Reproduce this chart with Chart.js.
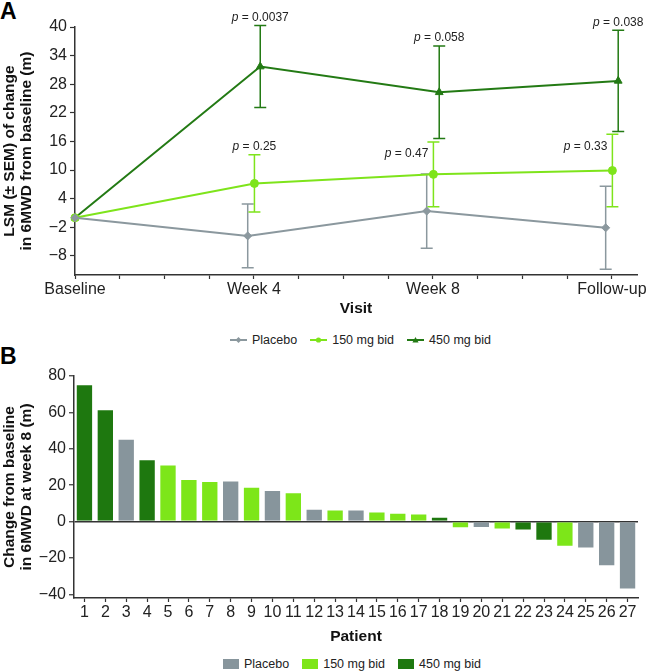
<!DOCTYPE html>
<html>
<head>
<meta charset="utf-8">
<script src="https://cdn.jsdelivr.net/npm/chart.js@4.4.0/dist/chart.umd.min.js"></script>
<style>
  body { margin: 0; background: #fff; font-family: "Liberation Sans", Arial, sans-serif; }
  #wrap { position: relative; width: 647px; height: 672px; overflow: hidden; }
  .letter { position: absolute; left: 0; font-weight: bold; font-size: 23px; line-height: 1; color: #000; }
  .legend { position: absolute; display: flex; align-items: center; font-size: 12.5px; color: #222; white-space: nowrap; height: 16px; }
  .legend .item { display: flex; align-items: center; margin-right: 13px; }
  .legend .sw { margin-right: 5px; display: block; }
  canvas { position: absolute; left: 0; }
</style>
</head>
<body>
<div id="wrap">
  <div class="letter" style="top:0px">A</div>
  <canvas id="chartA" width="647" height="320" style="top:0"></canvas>
  <div class="legend" id="legendA" style="top:332px; left:230px"></div>
  <div class="letter" style="top:345px">B</div>
  <canvas id="chartB" width="647" height="300" style="top:350px"></canvas>
  <div class="legend" id="legendB" style="top:656px; left:223px"></div>
</div>
<script>
// Panel A: LSM change in 6MWD by visit
const visitLabels = ['Baseline', 'Week 4', 'Week 8', 'Follow-up'];
const visitPos = [0, 4, 8, 12];
const placeboMean = [0, -3.8, 1.4, -2.1];
const placeboSem = [0, 6.7, 7.8, 8.7];
const mid150Mean = [0, 7.2, 9.1, 9.9];
const mid150Sem = [0, 6.0, 6.8, 7.6];
const high450Mean = [0, 31.7, 26.3, 28.7];
const high450Sem = [0, 8.6, 9.7, 10.6];
const pValues150 = [null, '0.25', '0.47', '0.33'];
const pValues450 = [null, '0.0037', '0.058', '0.038'];
const yTicksA = [40, 34, 28, 22, 16, 10, 4, -2, -8];

// Panel B: change at week 8 per patient
const patients = ['1','2','3','4','5','6','7','8','9','10','11','12','13','14','15','16','17','18','19','20','21','22','23','24','25','26','27'];
const changeWeek8 = [75.4, 61.7, 45.5, 34.3, 31.4, 23.4, 22.3, 22.6, 19.2, 17.4, 16.1, 7.1, 6.6, 6.6, 5.5, 4.9, 4.4, 2.7,
                     -3.7, -3.6, -4.4, -4.9, -10.6, -13.9, -14.8, -24.5, -37.3];
const patientGroup = ['450','450','placebo','450','150','150','150','placebo','150','placebo','150','placebo','150','placebo',
                      '150','150','150','450','150','placebo','150','450','450','150','placebo','placebo','placebo'];
const yTicksB = [80, 60, 40, 20, 0, -20, -40];

const FONT = '"Liberation Sans", Arial, sans-serif';
const AXIS = '#333';
const TEXT = '#222';
const colPlacebo = '#8b989e';
const col150 = '#7ee41b';
const col450 = '#237a14';
const TICK_SIZE = 16;
const TITLE_FONT = { size: 15.5, weight: 'bold', lineHeight: 1.1 };

Chart.defaults.font.family = FONT;

function fmt(v) {
    return v < 0 ? '\u2212' + Math.abs(v) : String(v);
}

// error bars drawn from the mean/sem arrays through the chart scales
const errorBars = {
    id: 'errorBars',
    beforeDatasetsDraw(chart) {
        const {ctx, scales: {x, y}} = chart;
        ctx.save();
        chart.data.datasets.forEach(ds => {
            ds.data.forEach((pt, i) => {
                const s = ds.sem[i];
                if (!s) return;
                const px = x.getPixelForValue(pt.x);
                const top = y.getPixelForValue(pt.y + s);
                const bot = y.getPixelForValue(pt.y - s);
                ctx.strokeStyle = ds.borderColor;
                ctx.lineWidth = 1.5;
                ctx.beginPath();
                ctx.moveTo(px, top); ctx.lineTo(px, bot);
                ctx.moveTo(px - 6, top); ctx.lineTo(px + 6, top);
                ctx.moveTo(px - 6, bot); ctx.lineTo(px + 6, bot);
                ctx.stroke();
            });
        });
        ctx.restore();
    }
};

const pLabels = {
    id: 'pLabels',
    afterDraw(chart) {
        const {ctx, scales: {x, y}} = chart;
        ctx.save();
        ctx.fillStyle = TEXT;
        ctx.textBaseline = 'middle';
        chart.data.datasets.forEach(ds => {
            if (!ds.pvals) return;
            ds.data.forEach((pt, i) => {
                const val = ds.pvals[i];
                if (!val) return;
                const px = x.getPixelForValue(pt.x);
                const top = y.getPixelForValue(pt.y + ds.sem[i]);
                ctx.font = 'italic 12px ' + FONT;
                const w1 = ctx.measureText('p').width;
                ctx.font = '12px ' + FONT;
                const rest = ' = ' + val;
                const w2 = ctx.measureText(rest).width;
                let sx, sy;
                if (ds.pPlace[i] === 'left') {
                    sx = px - 5 - (w1 + w2);
                    sy = top + 12;
                } else {
                    sx = px - (w1 + w2) / 2;
                    sy = top - 8;
                }
                ctx.textAlign = 'left';
                ctx.font = 'italic 12px ' + FONT;
                ctx.fillText('p', sx, sy);
                ctx.font = '12px ' + FONT;
                ctx.fillText(rest, sx + w1, sy);
            });
        });
        ctx.restore();
    }
};

function lineSeries(label, means, sems, dodge, color, style, radius, pvals, pPlace) {
    return {
        label: label,
        data: means.map((m, i) => ({x: visitPos[i] + (i === 0 ? 0 : dodge), y: m})),
        sem: sems,
        pvals: pvals,
        pPlace: pPlace,
        borderColor: color,
        backgroundColor: color,
        borderWidth: 2,
        pointStyle: style,
        pointRadius: radius,
        pointBorderWidth: 1,
        tension: 0,
        clip: false
    };
}

new Chart(document.getElementById('chartA'), {
    type: 'line',
    data: {
        datasets: [
            lineSeries('Placebo', placeboMean, placeboSem, -0.14, colPlacebo, 'rectRot', 4, null, null),
            lineSeries('150 mg bid', mid150Mean, mid150Sem, 0.01, col150, 'circle', 4, pValues150, [null, 'above', 'left', 'left']),
            lineSeries('450 mg bid', high450Mean, high450Sem, 0.14, col450, 'triangle', 4.5, pValues450, [null, 'above', 'above', 'above'])
        ]
    },
    options: {
        responsive: false,
        animation: false,
        layout: { padding: { top: 27, right: 10, left: 0, bottom: 0 } },
        plugins: { legend: { display: false }, tooltip: { enabled: false } },
        scales: {
            x: {
                type: 'linear',
                min: 0,
                max: 12.56,
                afterBuildTicks: s => { s.ticks = []; for (let v = 0; v <= 12; v++) s.ticks.push({value: v}); },
                afterFit: s => { s.height = 45; s.paddingLeft = 0; s.paddingRight = 0; },
                ticks: {
                    autoSkip: false, maxRotation: 0, padding: 1, color: TEXT, font: { size: TICK_SIZE },
                    callback: v => { const i = visitPos.indexOf(v); return i >= 0 ? visitLabels[i] : ''; }
                },
                grid: { drawOnChartArea: false, tickLength: 4, tickColor: AXIS, tickWidth: 1.2 },
                border: { color: AXIS, width: 1.5 },
                title: { display: true, text: 'Visit', color: '#111', font: TITLE_FONT, padding: { top: 0, bottom: 3 } }
            },
            y: {
                min: -12,
                max: 40,
                afterBuildTicks: s => {
                    s.ticks = [];
                    yTicksA.forEach(v => { s.ticks.push({value: v}); s.ticks.push({value: v - 3}); });
                },
                afterFit: s => { s.width = 75; s.paddingTop = 0; s.paddingBottom = 0; },
                ticks: {
                    padding: 3, color: TEXT, font: { size: TICK_SIZE },
                    callback: v => yTicksA.includes(v) ? fmt(v) : ''
                },
                grid: { drawOnChartArea: false, tickLength: 5, tickColor: AXIS, tickWidth: 1.2 },
                border: { color: AXIS, width: 1.5 },
                title: {
                    display: true, color: '#111',
                    text: ['LSM (\u00b1 SEM) of change', 'in 6MWD from baseline (m)'],
                    font: TITLE_FONT,
                    padding: { top: 1, bottom: 0 }
                }
            }
        }
    },
    plugins: [errorBars, pLabels]
});

const groups = [
    { key: 'placebo', label: 'Placebo', color: '#87959c' },
    { key: '150', label: '150 mg bid', color: '#7de619' },
    { key: '450', label: '450 mg bid', color: '#1e780f' }
];

new Chart(document.getElementById('chartB'), {
    type: 'bar',
    data: {
        labels: patients,
        datasets: groups.map(g => ({
            label: g.label,
            data: changeWeek8.map((v, i) => patientGroup[i] === g.key ? v : null),
            backgroundColor: g.color,
            borderColor: 'rgba(255,255,255,0.35)',
            borderWidth: 1,
            barPercentage: 0.83,
            categoryPercentage: 1
        }))
    },
    options: {
        responsive: false,
        animation: false,
        layout: { padding: { top: 26, right: 9, left: 0, bottom: 0 } },
        plugins: { legend: { display: false }, tooltip: { enabled: false } },
        scales: {
            x: {
                stacked: true,
                afterFit: s => { s.height = 52; s.paddingLeft = 0; s.paddingRight = 0; },
                ticks: { autoSkip: false, maxRotation: 0, padding: 1, color: TEXT, font: { size: TICK_SIZE } },
                grid: { offset: false, drawOnChartArea: false, tickLength: 4, tickColor: AXIS, tickWidth: 1.2 },
                border: { color: AXIS, width: 1.5 },
                title: { display: true, text: 'Patient', color: '#111', font: TITLE_FONT, padding: { top: 0, bottom: 5 } }
            },
            y: {
                stacked: true,
                min: -42,
                max: 80,
                afterBuildTicks: s => { s.ticks = yTicksB.map(v => ({value: v})); },
                afterFit: s => { s.width = 74; s.paddingTop = 0; s.paddingBottom = 0; },
                ticks: { padding: 3, color: TEXT, font: { size: TICK_SIZE }, callback: v => fmt(v) },
                grid: {
                    color: c => (c.tick && c.tick.value === 0) ? AXIS : 'rgba(0,0,0,0)',
                    lineWidth: 1.5, tickLength: 5, tickColor: AXIS, tickWidth: 1.2
                },
                border: { color: AXIS, width: 1.5 },
                title: {
                    display: true, color: '#111',
                    text: ['Change from baseline', 'in 6MWD at week 8 (m)'],
                    font: TITLE_FONT,
                    padding: { top: 1, bottom: 0 }
                }
            }
        }
    }
});

// legends
function lineMarker(color, style) {
    let m = '';
    if (style === 'rectRot') m = `<polygon points="8.5,2 11.5,5 8.5,8 5.5,5" fill="${color}"/>`;
    else if (style === 'circle') m = `<circle cx="8.5" cy="5" r="2.6" fill="${color}"/>`;
    else m = `<polygon points="8.5,2 11.6,7.4 5.4,7.4" fill="${color}"/>`;
    return `<svg class="sw" width="17" height="10"><line x1="0" y1="5" x2="17" y2="5" stroke="${color}" stroke-width="2"/>${m}</svg>`;
}
const legendA = document.getElementById('legendA');
[['Placebo', colPlacebo, 'rectRot'], ['150 mg bid', col150, 'circle'], ['450 mg bid', col450, 'triangle']].forEach(it => {
    legendA.insertAdjacentHTML('beforeend', `<div class="item">${lineMarker(it[1], it[2])}<span>${it[0]}</span></div>`);
});
const legendB = document.getElementById('legendB');
groups.forEach(g => {
    legendB.insertAdjacentHTML('beforeend', `<div class="item"><span class="sw" style="width:16px;height:10px;background:${g.color}"></span><span>${g.label}</span></div>`);
});
</script>
</body>
</html>
